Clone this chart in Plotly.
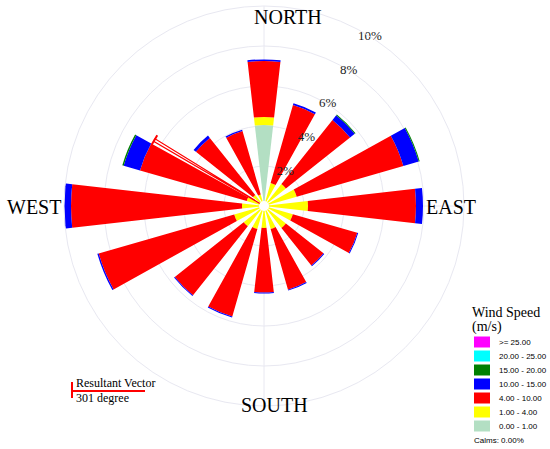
import plotly.graph_objects as go

# Figure size
W, H = 550, 449

# Wind directions (16 sectors)
directions = ['N', 'NNE', 'NE', 'ENE', 'E', 'ESE', 'SE', 'SSE',
              'S', 'SSW', 'SW', 'WSW', 'W', 'WNW', 'NW', 'NNW']
dir_degrees = [0, 22.5, 45, 67.5, 90, 112.5, 135, 157.5,
               180, 202.5, 225, 247.5, 270, 292.5, 315, 337.5]

# Frequency (%) per speed class, per direction (stacked)
freq_0_1 = [4.05, 0.1, 0.1, 0.1, 0.1, 0.1, 0.1, 0.1,
            0.1, 0.1, 0.1, 0.1, 0.1, 0.1, 0.1, 0.1]
freq_1_4 = [0.4, 1.1, 1.3, 1.6, 2.1, 1.4, 1.3, 1.1,
            1.0, 1.1, 1.2, 1.45, 1.0, 0.8, 0.6, 0.5]
freq_4_10 = [2.8, 4.05, 4.1, 5.55, 5.4, 3.35, 2.4, 3.15,
             3.23, 4.55, 4.4, 7.05, 8.55, 5.55, 3.65, 3.3]
freq_10_15 = [0.08, 0.1, 0.3, 0.8, 0.35, 0.05, 0.05, 0.05,
              0.05, 0.05, 0.05, 0.07, 0.45, 0.85, 0.15, 0.07]
freq_15_20 = [0, 0, 0.05, 0.05, 0, 0, 0, 0,
              0, 0, 0, 0, 0, 0.07, 0, 0]
freq_20_25 = [0] * 16
freq_25_up = [0] * 16

speed_labels = ['>= 25.00', '20.00 - 25.00', '15.00 - 20.00', '10.00 - 15.00',
                '4.00 - 10.00', '1.00 - 4.00', '0.00 - 1.00']
speed_colors = ['#ff00ff', '#00ffff', '#008000', '#0000ff',
                '#ff0000', '#ffff00', '#b3dfc3']
calms = 0.0

# Resultant vector
resultant_dir = 301
resultant_mag = 6.4

# Radial rings
ring_vals = [2, 4, 6, 8, 10]

SERIF = 'Liberation Serif'
SANS = 'Liberation Sans'
GRID = '#e8e8f1'


def px(x, y):
    return x / W, 1 - y / H


def label(fig, text, x, y, size, family, anchor='left'):
    ax, ay = px(x, y)
    fig.add_annotation(x=ax, y=ay, xref='paper', yref='paper', text=text,
                       xanchor=anchor, yanchor='middle', showarrow=False,
                       font=dict(family=family, size=size, color='black'))


fig = go.Figure()

# Stacked bars, from calm class outward
series = [freq_0_1, freq_1_4, freq_4_10, freq_10_15, freq_15_20, freq_20_25, freq_25_up]
for vals, name, color in zip(series, speed_labels[::-1], speed_colors[::-1]):
    fig.add_trace(go.Barpolar(r=vals, theta=dir_degrees, width=13,
                              name=name, marker_color=color,
                              marker_line_width=0, showlegend=False))

# Small white centre
fig.add_trace(go.Scatterpolar(r=[0], theta=[0], mode='markers',
                              marker=dict(color='white', size=10),
                              showlegend=False, hoverinfo='skip'))

# Resultant vector: thin outlined wedge with a tick at its end
fig.add_trace(go.Barpolar(r=[resultant_mag], theta=[resultant_dir], width=[1.3],
                          marker_color='white', marker_line_color='red',
                          marker_line_width=1.2, showlegend=False))
fig.add_trace(go.Scatterpolar(r=[resultant_mag, resultant_mag],
                              theta=[resultant_dir - 2.5, resultant_dir + 2.5],
                              mode='lines', line=dict(color='red', width=2),
                              showlegend=False))

# Ring labels
fig.add_trace(go.Scatterpolar(r=ring_vals, theta=[32] * len(ring_vals), mode='text',
                              text=[f'{v}%' for v in ring_vals],
                              textfont=dict(family=SERIF, size=13, color='#222'),
                              showlegend=False))

fig.update_layout(
    width=W, height=H,
    margin=dict(l=0, r=0, t=0, b=0),
    paper_bgcolor='white', plot_bgcolor='white',
    polar=dict(
        domain=dict(x=[64 / W, 464 / W], y=[(H - 406) / H, (H - 6) / H]),
        bgcolor='white',
        barmode='stack',
        angularaxis=dict(rotation=90, direction='clockwise',
                         tickvals=[0, 90, 180, 270], showticklabels=False, ticks='',
                         gridcolor=GRID, linecolor=GRID, showline=True),
        radialaxis=dict(range=[0, 10], tickvals=ring_vals, showticklabels=False,
                        ticks='', gridcolor=GRID, showline=False),
    ),
)

# Compass labels
for text, x, y in [('NORTH', 288, 17), ('SOUTH', 274, 405),
                   ('WEST', 33.5, 207), ('EAST', 451, 207)]:
    label(fig, text, x, y, 20, SERIF, anchor='center')

# Legend
label(fig, 'Wind Speed', 470, 312, 14, SERIF)
label(fig, '(m/s)', 470, 327, 14, SERIF)
for i, (lab, col) in enumerate(zip(speed_labels, speed_colors)):
    cy = 342 + 14 * i
    x0, y0 = px(474, cy - 5.5)
    x1, y1 = px(490, cy + 5.5)
    fig.add_shape(type='rect', xref='paper', yref='paper', x0=x0, y0=y0, x1=x1, y1=y1,
                  fillcolor=col, line_width=0)
    label(fig, lab, 497, cy, 8, SANS)
label(fig, f'Calms: {calms:.2f}%', 472, 440, 8, SANS)

# Resultant vector key
x0, y0 = px(72, 391)
x1, y1 = px(145, 391)
fig.add_shape(type='line', xref='paper', yref='paper', x0=x0, y0=y0, x1=x1, y1=y1,
              line=dict(color='red', width=2))
x0, y0 = px(72, 382)
x1, y1 = px(72, 398)
fig.add_shape(type='line', xref='paper', yref='paper', x0=x0, y0=y0, x1=x1, y1=y1,
              line=dict(color='red', width=2))
label(fig, 'Resultant Vector', 74, 383, 12, SERIF)
label(fig, f'{resultant_dir} degree', 74, 398, 12, SERIF)

fig.write_html('out.html', config={'displayModeBar': False},
               post_script="document.body.style.margin='0';")
